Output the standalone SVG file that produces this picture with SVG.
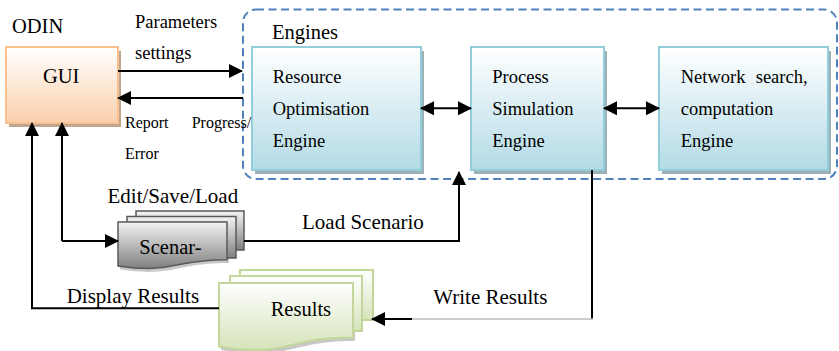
<svg xmlns="http://www.w3.org/2000/svg" width="839" height="351" viewBox="0 0 839 351">
<style>
text{font-family:"Liberation Serif","Times New Roman",serif;fill:#000}
.t18{font-size:18.5px}
.t16{font-size:16px}
.t20{font-size:20.5px}
.t21{font-size:21px}
.ln{fill:none;stroke:#000;stroke-width:2}
.eng{fill:url(#gEng);stroke:#92cddc;stroke-width:2}
.engsh{fill:#9cb0b7}
.scn{fill:url(#gScn);stroke:#595959;stroke-width:1.5}
.res{fill:url(#gRes);stroke:#c3d69b;stroke-width:2}
.dsh{fill:#9a9a9a;opacity:0.55}
</style>
<defs>
<linearGradient id="gEng" x1="0" y1="0" x2="0" y2="1">
<stop offset="0" stop-color="#ffffff"/><stop offset="1" stop-color="#b3dbe6"/>
</linearGradient>
<linearGradient id="gGui" x1="0" y1="0" x2="0" y2="1">
<stop offset="0" stop-color="#ffffff"/><stop offset="1" stop-color="#fbd0ab"/>
</linearGradient>
<linearGradient id="gScn" x1="0" y1="0" x2="0" y2="1">
<stop offset="0" stop-color="#f4f4f4"/><stop offset="1" stop-color="#808080"/>
</linearGradient>
<linearGradient id="gRes" x1="0" y1="0" x2="0" y2="1">
<stop offset="0" stop-color="#ffffff"/><stop offset="1" stop-color="#d5e3b9"/>
</linearGradient>
<marker id="ah" viewBox="0 0 14 14" refX="13" refY="7" markerWidth="14" markerHeight="14" markerUnits="userSpaceOnUse" orient="auto-start-reverse">
<path d="M0,0 L14,7 L0,14 Z" fill="#000"/>
</marker>
</defs>
<rect width="839" height="351" fill="#fff"/>

<g id="engines">
<rect x="243" y="9.5" width="594" height="169.5" rx="13" fill="none" stroke="#4f81bd" stroke-width="2" stroke-dasharray="8 4.5"/>
<text class="t20" x="272" y="38.5">Engines</text>
</g>

<g id="gui">
<rect x="9" y="51" width="112" height="76" fill="#bfa78f"/>
<rect x="6" y="47" width="112" height="76" fill="url(#gGui)" stroke="#fac08f" stroke-width="2"/>
<text class="t20" x="43" y="82.5">GUI</text>
</g>
<text id="odin" class="t20" x="12" y="32.5">ODIN</text>

<g id="resource">
<rect class="engsh" x="255" y="51" width="169" height="123"/>
<rect class="eng" x="252" y="47" width="169" height="123"/>
<text class="t18" x="272.7" y="83">Resource</text>
<text class="t18" x="272.7" y="115">Optimisation</text>
<text class="t18" x="272.7" y="147">Engine</text>
</g>

<g id="process">
<rect class="engsh" x="474" y="51" width="133" height="123"/>
<rect class="eng" x="471" y="47" width="133" height="123"/>
<text class="t18" x="492.3" y="83">Process</text>
<text class="t18" x="492.3" y="115">Simulation</text>
<text class="t18" x="492.3" y="147">Engine</text>
</g>

<g id="network">
<rect class="engsh" x="662" y="51" width="169" height="123"/>
<rect class="eng" x="659" y="47" width="169" height="123"/>
<text class="t18" x="680.7" y="83">Network</text>
<text class="t18" x="755.7" y="83">search,</text>
<text class="t18" x="680.7" y="115">computation</text>
<text class="t18" x="680.7" y="147">Engine</text>
</g>

<g id="scenario">
<text class="t21" x="107.5" y="202.7">Edit/Save/Load</text>
<path class="dsh" d="M120,226 H229 V263 C174.5,263 174.5,277.5 120,269.5 Z"/>
<rect class="scn" x="136" y="211" width="108" height="39"/>
<rect class="scn" x="127" y="216.5" width="109" height="41.5"/>
<path class="scn" d="M118,222 H227 V259.7 C172.5,259.7 172.5,274.1 118,265.9 Z"/>
<text class="t20" x="139.3" y="254">Scenar-</text>
</g>

<g id="results">
<path class="dsh" d="M221,287 H355 V341 C288,341 288,362 221,350 Z"/>
<rect class="res" x="240" y="270" width="133" height="50"/>
<rect class="res" x="230" y="276" width="132" height="55"/>
<path class="res" d="M219,283 H353 V337.5 C286,337.5 286,358.3 219,346.5 Z"/>
<text class="t20" x="270.7" y="315.7">Results</text>
</g>

<g id="connectors">
<line class="ln" x1="118" y1="71" x2="242" y2="71" marker-end="url(#ah)"/>
<line class="ln" x1="243" y1="98" x2="118" y2="98" marker-end="url(#ah)"/>
<line class="ln" x1="421" y1="108.3" x2="471" y2="108.3" marker-start="url(#ah)" marker-end="url(#ah)"/>
<line class="ln" x1="604" y1="108.3" x2="659" y2="108.3" marker-start="url(#ah)" marker-end="url(#ah)"/>
<polyline class="ln" points="62,241 62,123" marker-end="url(#ah)"/>
<line class="ln" x1="62" y1="241" x2="118" y2="241" marker-end="url(#ah)"/>
<polyline class="ln" points="219,308.3 32,308.3 32,123" marker-end="url(#ah)"/>
<polyline class="ln" points="244,241 459,241 459,172" marker-end="url(#ah)"/>
<polyline class="ln" points="592,170 592,319"/>
<line x1="593" y1="319" x2="412" y2="319" stroke="#bdbdbd" stroke-width="1.5"/>
<line class="ln" x1="412" y1="319" x2="372" y2="319" marker-end="url(#ah)"/>
</g>

<g id="labels">
<text class="t18" x="135" y="28.3">Parameters</text>
<text class="t18" x="135" y="59.3">settings</text>
<text class="t16" x="125" y="128.3">Report</text>
<text class="t16" x="191.7" y="128.3">Progress/</text>
<text class="t16" x="125" y="159.3">Error</text>
<text class="t21" x="302" y="229">Load Scenario</text>
<text class="t21" x="66.7" y="303.3">Display Results</text>
<text class="t21" x="433.3" y="304.3">Write Results</text>
</g>
</svg>
